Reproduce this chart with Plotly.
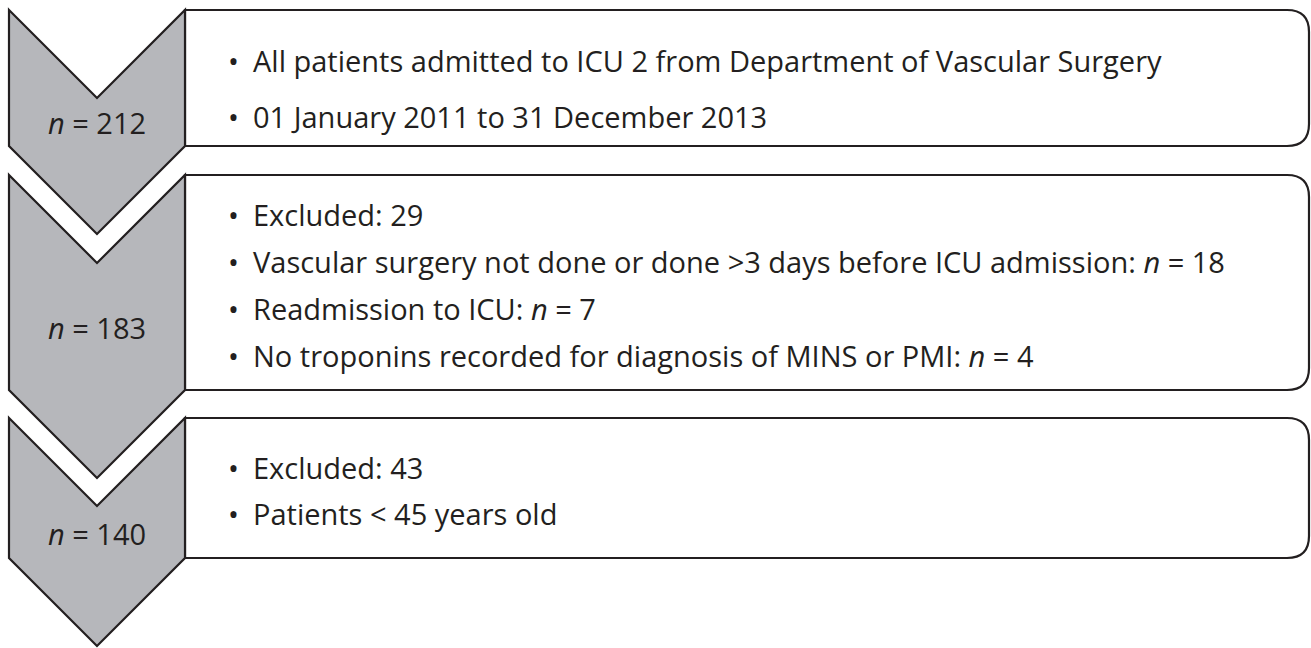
import plotly.graph_objects as go

# ---- data ----
stage_counts = [212, 183, 140]
stage_bullets = [
    ["All patients admitted to ICU 2 from Department of Vascular Surgery",
     "01 January 2011 to 31 December 2013"],
    ["Excluded: 29",
     "Vascular surgery not done or done >3 days before ICU admission: <i>n</i> = 18",
     "Readmission to ICU: <i>n</i> = 7",
     "No troponins recorded for diagnosis of MINS or PMI: <i>n</i> = 4"],
    ["Excluded: 43",
     "Patients < 45 years old"],
]
# layout geometry (pixel-like coordinates)
box_tops = [10, 175, 418]
box_bottoms = [146, 390, 558]
bullet_y = [[60, 116], [214, 261, 308, 355], [467, 513]]
label_y = [122, 327, 533]

W, H = 1311, 648
XL, XM, XR, XE = 9, 97, 185, 1309
DEPTH = 88
R = 22
FILL = "#b6b7bb"
INK = "#231f20"
FONT = "Open Sans"
FS = 29

fig = go.Figure()
shapes = []
annotations = []
for i, n in enumerate(stage_counts):
    t, b = box_tops[i], box_bottoms[i]
    box = (f"M {XR},{t} L {XE-R},{t} Q {XE},{t} {XE},{t+R} "
           f"L {XE},{b-R} Q {XE},{b} {XE-R},{b} L {XR},{b} Z")
    shapes.append(dict(type="path", path=box, xref="x", yref="y",
                       fillcolor="white", line=dict(color=INK, width=2.2)))
    chev = (f"M {XL},{t} L {XM},{t+DEPTH} L {XR},{t} L {XR},{b} "
            f"L {XM},{b+DEPTH} L {XL},{b} Z")
    shapes.append(dict(type="path", path=chev, xref="x", yref="y",
                       fillcolor=FILL, line=dict(color=INK, width=2.2)))
    annotations.append(dict(x=XM, y=label_y[i], xref="x", yref="y",
                            text=f"<i>n</i> = {n}", showarrow=False,
                            xanchor="center", yanchor="middle",
                            font=dict(family=FONT, size=FS, color=INK)))
    for txt, yy in zip(stage_bullets[i], bullet_y[i]):
        annotations.append(dict(x=233, y=yy, xref="x", yref="y", text="•",
                                showarrow=False, xanchor="center", yanchor="middle",
                                font=dict(family=FONT, size=FS, color=INK)))
        annotations.append(dict(x=251, y=yy, xref="x", yref="y", text=txt,
                                showarrow=False, xanchor="left", yanchor="middle",
                                font=dict(family=FONT, size=FS, color=INK)))

fig.update_layout(
    width=W, height=H,
    margin=dict(l=0, r=0, t=0, b=0),
    paper_bgcolor="white", plot_bgcolor="white",
    xaxis=dict(range=[0, W], visible=False, fixedrange=True),
    yaxis=dict(range=[H, 0], visible=False, fixedrange=True),
    shapes=shapes, annotations=annotations, showlegend=False,
)
fig.write_html("out.html", config={"displayModeBar": False},
               post_script="document.body.style.margin='0';document.body.style.overflow='hidden';")
